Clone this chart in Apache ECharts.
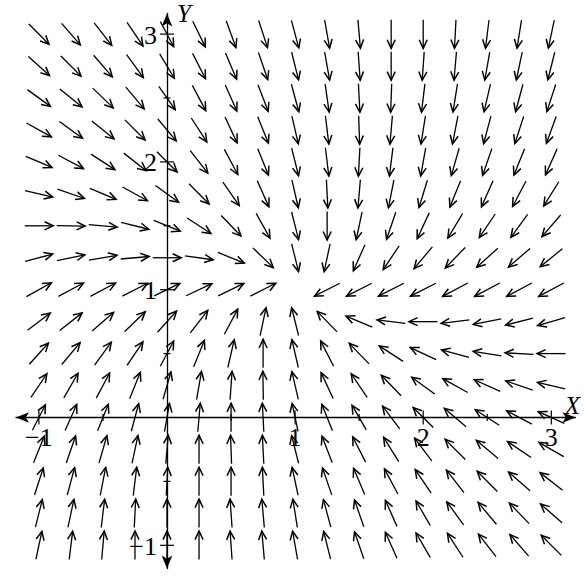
<!DOCTYPE html>
<html>
<head>
<meta charset="utf-8">
<script src="https://cdn.jsdelivr.net/npm/echarts@6/dist/echarts.min.js"></script>
<style>
  html, body { margin: 0; padding: 0; background: #fff; }
  #chart { width: 584px; height: 577px; }
</style>
</head>
<body>
<div id="chart"></div>
<script>
// Sample positions of the direction field
const xCols = [-1, -0.75, -0.5, -0.25, 0, 0.25, 0.5, 0.75, 1, 1.25, 1.5, 1.75, 2, 2.25, 2.5, 2.75, 3];
const yRows = [3, 2.75, 2.5, 2.25, 2, 1.75, 1.5, 1.25, 1, 0.75, 0.5, 0.25, 0, -0.25, -0.5, -0.75, -1];

// Arrow direction in degrees (counter-clockwise from +X), left to right along each row
const dirY3_00  = [-45, -49, -52, -56, -62, -64, -70, -72, -75, -80, -85, -90, -90, -93, -97, -99, -102];
const dirY2_75  = [-42, -45, -49, -54, -59, -63, -67, -71, -76, -80, -86, -90, -94, -95, -100, -102, -104];
const dirY2_50  = [-36, -39, -44, -50, -55, -62, -66, -69, -75, -82, -87, -92, -97, -99, -103, -105, -108];
const dirY2_25  = [-29, -36, -39, -45, -50, -57, -65, -68, -77, -83, -88, -95, -99, -101, -105, -108, -110];
const dirY2_00  = [-23, -28, -33, -38, -45, -52, -62, -68, -76, -83, -93, -97, -100, -106, -109, -112, -114];
const dirY1_75  = [-13, -19, -23, -29, -36, -45, -55, -66, -77, -87, -95, -101, -107, -112, -114, -118, -122];
const dirY1_50  = [0, -1, -5, -14, -22, -33, -46, -61, -76, -90, -102, -109, -115, -121, -124, -126, -131];
const dirY1_25  = [15, 12, 10, 5, 0, -8, -22, -44, -76, -102, -114, -124, -130, -134, -138, -139, -141];
const dirY1_00  = [29, 28, 28, 27, 26, 25, 26, 27, null, -153, -153, -153, -153, -152, -152, -152, -152];
const dirY0_75  = [37, 38, 41, 44, 48, 52, 62, 78, 104, 134, 157, 173, 180, -173, -169, -166, -164];
const dirY0_50  = [48, 50, 54, 56, 62, 68, 77, 90, 103, 117, 134, 147, 155, 165, 171, 177, 180];
const dirY0_25  = [56, 60, 62, 68, 74, 80, 86, 91, 103, 115, 124, 134, 144, 151, 156, 161, 167];
const dirY0_00  = [63, 66, 68, 75, 80, 85, 90, 93, 102, 112, 120, 127, 135, 140, 147, 152, 156];
const dirYm0_25 = [68, 71, 74, 78, 85, 90, 92, 93, 104, 111, 117, 122, 127, 135, 140, 146, 150];
const dirYm0_50 = [72, 75, 79, 83, 87, 90, 90, 93, 102, 109, 113, 118, 124, 128, 135, 139, 142];
const dirYm0_75 = [76, 78, 83, 87, 90, 90, 94, 95, 99, 105, 109, 114, 120, 126, 130, 134, 139];
const dirYm1_00 = [78, 83, 85, 90, 90, 90, 94, 95, 100, 104, 109, 114, 120, 123, 128, 131, 135];

const dirRows = [dirY3_00, dirY2_75, dirY2_50, dirY2_25, dirY2_00, dirY1_75, dirY1_50, dirY1_25,
  dirY1_00, dirY0_75, dirY0_50, dirY0_25, dirY0_00, dirYm0_25, dirYm0_50, dirYm0_75, dirYm1_00];

// Axis ticks and labels
const xTickLabels = [-1, 1, 2, 3];
const yTickLabels = [-1, 1, 2, 3];
const majorTicks = [-1, 1, 2, 3];
const minorTicks = [-0.5, 0.5, 1.5, 2.5];

// Build [x, y, angle] items for the arrow series (the rest point has no arrow)
const arrowData = [];
yRows.forEach((y, r) => {
  xCols.forEach((x, c) => {
    const a = dirRows[r][c];
    if (a !== null) arrowData.push([x, y, a]);
  });
});

// Tick marks crossing the axes: [x, y, orientation (0 = on X axis, 1 = on Y axis), half length]
const tickData = [];
majorTicks.forEach(v => { tickData.push([v, 0, 0, 7]); tickData.push([0, v, 1, 7]); });
minorTicks.forEach(v => { tickData.push([v, 0, 0, 3.5]); tickData.push([0, v, 1, 3.5]); });

// Tick labels sitting next to the axis lines: [x, y, orientation]
const labelData = [];
const labelText = [];
xTickLabels.forEach(v => { labelData.push([v, 0, 0]); labelText.push(v); });
yTickLabels.forEach(v => { labelData.push([0, v, 1]); labelText.push(v); });

const ARROW_LEN = 28.5;
const HEAD_LEN = 9.5;
const HEAD_SPREAD = 25 * Math.PI / 180;
const INK = '#000';
const FONT = 'Liberation Serif';

function renderArrow(params, api) {
  const c = api.coord([api.value(0), api.value(1)]);
  const a = api.value(2) * Math.PI / 180;
  const ux = Math.cos(a), uy = -Math.sin(a);
  const h = ARROW_LEN / 2;
  const tail = [c[0] - ux * h, c[1] - uy * h];
  const tip = [c[0] + ux * h, c[1] + uy * h];
  const barb = s => {
    const bx = -ux, by = -uy;
    const cs = Math.cos(s), sn = Math.sin(s);
    return [tip[0] + HEAD_LEN * (bx * cs - by * sn), tip[1] + HEAD_LEN * (bx * sn + by * cs)];
  };
  const shaft = { stroke: INK, lineWidth: 1.3, fill: null, lineCap: 'butt' };
  const head = { stroke: INK, lineWidth: 1.5, fill: null, lineJoin: 'miter', miterLimit: 10, lineCap: 'butt' };
  return {
    type: 'group',
    children: [
      { type: 'polyline', shape: { points: [tail, tip] }, style: shaft },
      { type: 'polyline', shape: { points: [barb(HEAD_SPREAD), tip, barb(-HEAD_SPREAD)] }, style: head }
    ]
  };
}

function renderTick(params, api) {
  const c = api.coord([api.value(0), api.value(1)]);
  const s = api.value(3);
  const pts = api.value(2) === 0
    ? [[c[0], c[1] - s], [c[0], c[1] + s]]
    : [[c[0] - s, c[1]], [c[0] + s, c[1]]];
  return { type: 'polyline', shape: { points: pts }, style: { stroke: INK, lineWidth: 1.2, fill: null } };
}

const fmt = v => String(v).replace('-', '\u2212');

function renderLabel(params, api) {
  const c = api.coord([api.value(0), api.value(1)]);
  const onX = api.value(2) === 0;
  return {
    type: 'text',
    x: onX ? c[0] : c[0] - 10,
    y: onX ? c[1] + 20 : c[1] + 1,
    style: {
      text: fmt(labelText[params.dataIndex]),
      fill: INK,
      fontFamily: FONT,
      fontSize: 26,
      align: onX ? 'center' : 'right',
      verticalAlign: 'middle'
    }
  };
}

const chart = echarts.init(document.getElementById('chart'), null, { renderer: 'svg' });
chart.setOption({
  animation: false,
  backgroundColor: '#fff',
  grid: { left: 16, right: 8.5, top: 13.5, bottom: 8.5, containLabel: false, outerBoundsMode: 'none' },
  xAxis: {
    type: 'value',
    min: -1.1788, max: 3.1889,
    name: 'X',
    nameLocation: 'end',
    nameGap: -3,
    nameTextStyle: { fontFamily: FONT, fontStyle: 'italic', fontSize: 25, color: INK, align: 'center', verticalAlign: 'bottom' },
    axisLine: { onZero: true, symbol: ['arrow', 'arrow'], symbolSize: [8, 13], lineStyle: { color: INK, width: 1.3 } },
    axisTick: { show: false },
    splitLine: { show: false },
    axisLabel: { show: false }
  },
  yAxis: {
    type: 'value',
    min: -1.1815, max: 3.1612,
    name: 'Y',
    nameLocation: 'end',
    nameGap: 0,
    nameTextStyle: { fontFamily: FONT, fontStyle: 'italic', fontSize: 25, color: INK, align: 'left', verticalAlign: 'middle', padding: [0, 0, 0, 10] },
    axisLine: { onZero: true, symbol: ['arrow', 'arrow'], symbolSize: [8, 13], lineStyle: { color: INK, width: 1.3 } },
    axisTick: { show: false },
    splitLine: { show: false },
    axisLabel: { show: false }
  },
  series: [
    { type: 'custom', name: 'ticks', data: tickData, encode: { x: 0, y: 1 }, renderItem: renderTick, silent: true, z: 3 },
    { type: 'custom', name: 'labels', data: labelData, encode: { x: 0, y: 1 }, renderItem: renderLabel, silent: true, z: 3 },
    { type: 'custom', name: 'field', data: arrowData, encode: { x: 0, y: 1 }, renderItem: renderArrow, silent: true, z: 4 }
  ]
});
</script>
</body>
</html>
